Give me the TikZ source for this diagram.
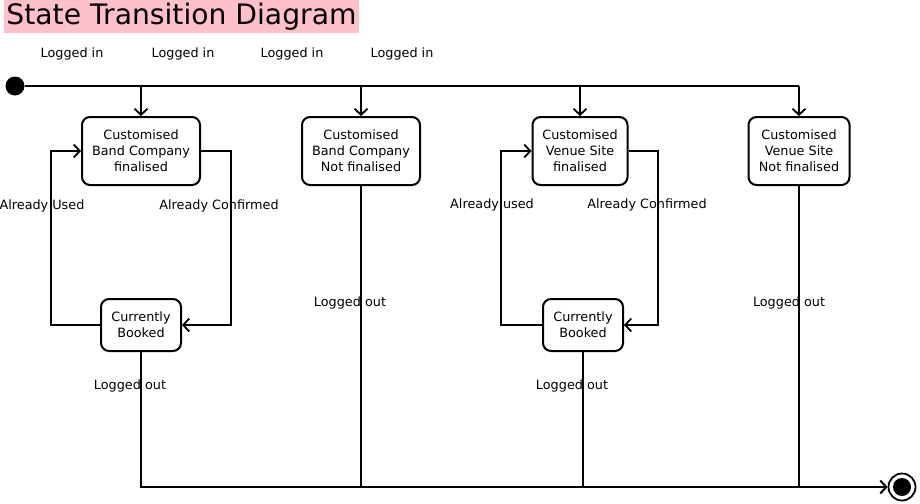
\documentclass[tikz,border=0pt]{standalone}
\usepackage{fontspec}
\setmainfont{DejaVu Sans}
\usetikzlibrary{arrows.meta}
\definecolor{titlepink}{RGB}{255,192,203}
\begin{document}
\begin{tikzpicture}[x=1pt,y=-1pt,
  every node/.style={font=\fontsize{12.8}{16}\selectfont},
  statebox/.style={draw, line width=2pt, rounded corners=8pt, align=center, inner sep=0pt},
  conn/.style={line width=1.8pt},
  arr/.style={line width=1.8pt, -{Straight Barb[length=6pt,width=13pt,line width=1.8pt]}},
  lbl/.style={inner sep=0pt}]
\useasboundingbox (0,0) rectangle (920,503);
% title
\node[fill=titlepink, minimum width=355pt, minimum height=33pt, inner sep=0pt,
      font=\fontsize{28.2}{30}\selectfont] (title) at (181.5,16.5) {State Transition Diagram};
% initial and final
\node[circle, fill=black, minimum size=19pt, inner sep=0pt] (init) at (15,86) {};
\node[circle, draw, line width=1.8pt, fill=white, minimum size=27pt, inner sep=0pt] (fin) at (902,487) {};
\node[circle, fill=black, minimum size=18pt, inner sep=0pt] (fincore) at (fin) {};
% states
\node[statebox, minimum width=118pt, minimum height=68pt] (s1) at (141,151) {Customised\\Band Company\\finalised};
\node[statebox, minimum width=118pt, minimum height=68pt] (s2) at (361,151) {Customised\\Band Company\\Not finalised};
\node[statebox, minimum width=95pt, minimum height=68pt] (s3) at (580,151) {Customised\\Venue Site\\finalised};
\node[statebox, minimum width=101pt, minimum height=68pt] (s4) at (799,151) {Customised\\Venue Site\\Not finalised};
\node[statebox, minimum width=80pt, minimum height=52pt] (b1) at (141,325) {Currently\\Booked};
\node[statebox, minimum width=80pt, minimum height=52pt] (b2) at (583,325) {Currently\\Booked};
% top fork line
\coordinate (j4) at (s4.north |- init);
\draw[line width=2.6pt] (init) -- (j4);
\draw[arr] (s1.north |- init) -- (s1.north);
\draw[arr] (s2.north |- init) -- (s2.north);
\draw[arr] (s3.north |- init) -- (s3.north);
\draw[arr] (j4) -- (s4.north);
% loops
\draw[arr] (b1.west) -- ++(-49,0) |- (s1.west);
\draw[arr] (s1.east) -- ++(30,0) |- (b1.east);
\draw[arr] (b2.west) -- ++(-41,0) |- (s3.west);
\draw[arr] (s3.east) -- ++(29.5,0) |- (b2.east);
% bottom join
\coordinate (m2) at (s2.south |- fin);
\draw[conn] (b1.south) |- (m2);
\draw[conn] (s2.south) -- (m2);
\draw[conn] (b2.south) -- (b2.south |- fin);
\draw[conn] (s4.south) -- (s4.south |- fin);
\draw[line width=2.8pt, -{Straight Barb[length=6pt,width=13pt,line width=2pt]}] (m2) -- (fin.west);
% labels
\node[lbl] (li1) at (72,53.5) {Logged in};
\node[lbl] (li2) at (183,53.5) {Logged in};
\node[lbl] (li3) at (292,53.5) {Logged in};
\node[lbl] (li4) at (402,53.5) {Logged in};
\node[lbl] (au1) at (42,205.5) {Already Used};
\node[lbl] (ac1) at (219,205.5) {Already Confirmed};
\node[lbl] (au2) at (492,204.5) {Already used};
\node[lbl] (ac2) at (647,204.5) {Already Confirmed};
\node[lbl] (lo2) at (350,302.5) {Logged out};
\node[lbl] (lo4) at (789,302.5) {Logged out};
\node[lbl] (lo1) at (130,385.5) {Logged out};
\node[lbl] (lo3) at (572,385.5) {Logged out};
\end{tikzpicture}
\end{document}
